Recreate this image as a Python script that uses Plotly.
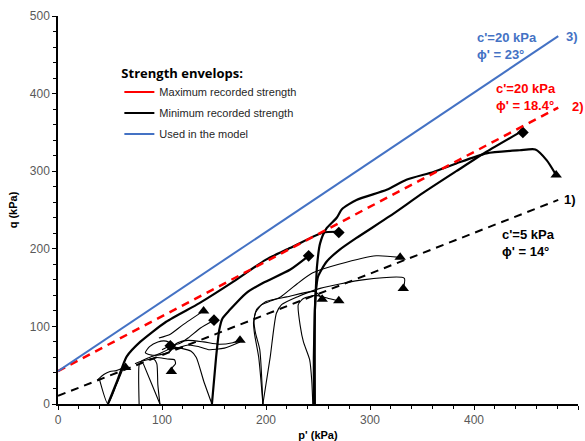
import plotly.graph_objects as go

# ---------------- data ----------------
# Strength envelopes (end points)
env1_p = [0, 481]; env1_q = [10.5, 263]     # c'=5 kPa, phi'=14  (black dashed)
env2_p = [0, 481]; env2_q = [42.4, 382]     # c'=20 kPa, phi'=18.4 (red dashed)
env3_p = [0, 481]; env3_q = [42.3, 474]     # c'=20 kPa, phi'=23 (blue)

# Thick stress paths
t1_p = [48, 57, 66, 79, 104, 136, 169, 200, 223, 232, 255, 268]
t1_q = [0, 30, 61, 80, 106, 130, 158, 186, 201, 207, 221, 222]
t2_p = [148, 152, 155, 158, 165, 181, 197, 223, 241]
t2_q = [0, 60, 95, 110, 121, 143, 156, 173, 191]
t3_p = [246, 246, 247, 248, 249, 252, 258, 268, 273, 287, 316, 335, 361, 383, 412, 444, 459, 470, 479]
t3_q = [0, 60, 120, 150, 177, 207, 226, 240, 251, 263, 276, 289, 299, 310, 323, 327, 328, 314, 295]
t4_p = [247, 247, 248, 250, 258, 270, 287, 319, 351, 383, 412, 444]
t4_q = [0, 120, 145, 164, 183, 198, 214, 242, 272, 300, 325, 350]

# Thin stress paths
s1_p = [197, 194, 190, 188.5, 190, 196, 205, 214, 230, 245, 270, 306, 329]
s1_q = [0, 70, 91, 106, 118, 128, 133, 138, 155, 169, 180, 191, 189]
s2_p = [197, 204, 210, 215, 230, 252, 293, 333, 332]
s2_q = [0, 60, 117, 128, 138, 149, 160, 162, 149]
s3_p = [197, 193, 189, 188, 191, 200, 220, 247, 254]
s3_q = [0, 60, 90, 105, 122, 132, 138, 145, 135]
s4_p = [245, 244, 242, 236, 233, 231, 236, 248, 260, 270]
s4_q = [0, 30, 57, 80, 100, 128, 136, 140, 136, 133]
s5_p = [40, 48, 56, 63]
s5_q = [31, 0, 24, 47]
s6_p = [38, 44, 50, 56, 62, 66]
s6_q = [31, 38, 42, 43, 46, 48]
s7_p = [78, 78, 80, 88, 98, 108, 115, 125, 140, 155, 168, 175]
s7_q = [0, 50, 55, 60, 65, 72, 79, 82, 80, 77, 79, 82]
s8_p = [82, 90, 98]
s8_q = [52, 26, 0]
s9_p = [98, 96, 95, 92, 86, 80, 74]
s9_q = [0, 25, 52, 58, 57, 55, 52]
s10_p = [88, 95, 105, 112, 113, 110, 109]
s10_q = [58, 60, 58, 57, 52, 47, 42]
s11_p = [84, 88, 96, 104, 110, 108, 100, 90, 84]
s11_q = [66, 74, 80, 81, 76, 68, 64, 63, 66]
s12_p = [100, 108, 117, 125, 137, 150]
s12_q = [70, 75, 78, 85, 98, 108]
s13_p = [97, 108, 120, 140]
s13_q = [85, 90, 102, 120]
s14_p = [108, 118, 128, 133, 140, 148]
s14_q = [74, 72, 68, 60, 30, 0]
s15_p = [105, 115, 125, 135, 145, 160, 175]
s15_q = [70, 72, 76, 74, 70, 72, 80]

tri_p = [65, 109, 140, 175, 254, 270, 329, 332, 479]
tri_q = [47, 42, 120, 82, 135, 133, 189, 149, 295]
dia_p = [108, 150, 241, 270, 447]
dia_q = [75, 108, 191, 221, 350]

x_ticks = [0, 100, 200, 300, 400, 500]
y_ticks = [0, 100, 200, 300, 400, 500]

# ---------------- figure ----------------
fig = go.Figure()

thick = [(t1_p, t1_q), (t2_p, t2_q), (t3_p, t3_q), (t4_p, t4_q)]
thin = [(s1_p, s1_q), (s2_p, s2_q), (s3_p, s3_q), (s4_p, s4_q), (s5_p, s5_q),
        (s6_p, s6_q), (s7_p, s7_q), (s8_p, s8_q), (s9_p, s9_q), (s10_p, s10_q),
        (s11_p, s11_q), (s12_p, s12_q), (s13_p, s13_q), (s14_p, s14_q), (s15_p, s15_q)]
for p, q in thin:
    fig.add_trace(go.Scatter(x=p, y=q, mode="lines", showlegend=False,
                             line=dict(color="black", width=1.1, shape="spline", smoothing=0.6)))
for p, q in thick:
    fig.add_trace(go.Scatter(x=p, y=q, mode="lines", showlegend=False,
                             line=dict(color="black", width=2.2, shape="spline", smoothing=0.6)))

fig.add_trace(go.Scatter(x=tri_p, y=tri_q, mode="markers", showlegend=False,
                         marker=dict(symbol="triangle-up", size=10, color="black")))
fig.add_trace(go.Scatter(x=dia_p, y=dia_q, mode="markers", showlegend=False,
                         marker=dict(symbol="diamond", size=9, color="black")))

fig.add_trace(go.Scatter(x=env1_p, y=env1_q, mode="lines", showlegend=False,
                         line=dict(color="black", width=2, dash="8px,6px")))
fig.add_trace(go.Scatter(x=env2_p, y=env2_q, mode="lines", showlegend=False,
                         line=dict(color="#FF0000", width=2.5, dash="8px,6px")))
fig.add_trace(go.Scatter(x=env3_p, y=env3_q, mode="lines", showlegend=False,
                         line=dict(color="#4472C4", width=2)))

# legend entries (solid short lines as in the reference legend)
for i, (name, col) in enumerate([("Maximum recorded strength", "#FF0000"),
                                 ("Minimum recorded strength", "black"),
                                 ("Used in the model", "#4472C4")]):
    fig.add_trace(go.Scatter(x=[None], y=[None], mode="lines", name=name,
                             legendgroup="g%d" % i,
                             line=dict(color=col, width=2)))

ann_font = dict(family="Liberation Sans, Arial", size=13)
annotations = [
    dict(x=401, y=461, text="<b>c'=20 kPa<br>ϕ' = 23°</b>", color="#4472C4", xanchor="left"),
    dict(x=494, y=473, text="<b>3)</b>", color="#4472C4", xanchor="center"),
    dict(x=419, y=395, text="<b>c'=20 kPa<br>ϕ' = 18.4°</b>", color="#FF0000", xanchor="left"),
    dict(x=500, y=384, text="<b>2)</b>", color="#FF0000", xanchor="center"),
    dict(x=425, y=207, text="<b>c'=5 kPa<br>ϕ' = 14°</b>", color="black", xanchor="left"),
    dict(x=492, y=263, text="<b>1)</b>", color="black", xanchor="center"),
]
for a in annotations:
    fig.add_annotation(x=a["x"], y=a["y"], text=a["text"], showarrow=False,
                       xanchor=a["xanchor"], yanchor="middle", align="left",
                       font=dict(color=a["color"], **ann_font))

axis_common = dict(
    showgrid=False, zeroline=False, showline=True, linecolor="black", linewidth=1.5,
    ticks="outside", ticklen=4, tickcolor="black", tickwidth=1.2, automargin=False,
    tickfont=dict(family="Liberation Sans, Arial", size=12, color="#595959"),
    minor=dict(ticks="outside", ticklen=3, tickcolor="black", dtick=20, tickwidth=1),
)
fig.update_xaxes(range=[0, 500], tickvals=x_ticks, **axis_common,
                 title=dict(text="<b>p' (kPa)</b>", standoff=8,
                            font=dict(family="Liberation Sans, Arial", size=11, color="black")))
fig.update_yaxes(range=[0, 500], tickvals=y_ticks, **axis_common,
                 title=dict(text="<b>q (kPa)</b>", standoff=10,
                            font=dict(family="Liberation Sans, Arial", size=11, color="black")))

fig.update_layout(
    width=585, height=441,
    margin=dict(l=58, r=7, t=16, b=37),
    plot_bgcolor="white", paper_bgcolor="white",
    showlegend=True,
    legend=dict(x=0.118, y=0.885, xanchor="left", yanchor="top",
                bgcolor="rgba(0,0,0,0)", itemwidth=30, tracegroupgap=2,
                font=dict(family="Liberation Sans, Arial", size=11, color="#262626"),
                title=dict(text="<b>Strength envelops:</b>",
                           font=dict(family="Open Sans, Liberation Sans", size=13, color="black"))),
)

fig.write_html("out.html")
